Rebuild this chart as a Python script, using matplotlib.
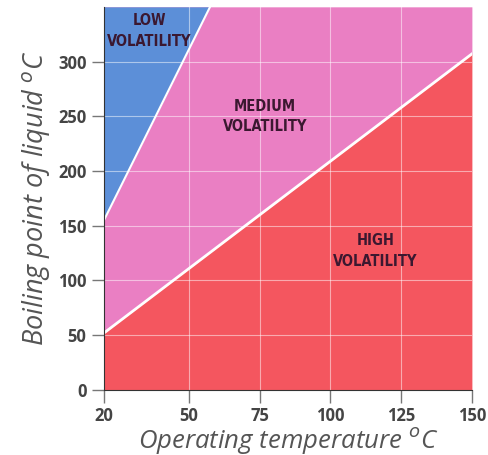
import numpy as np
import matplotlib.pyplot as plt
from matplotlib import font_manager

# boundary lines
high_x = [20, 150]
high_y = [52, 307]
low_x = [20, 57.5]
low_y = [155, 350]

x_ticks = [20, 50, 75, 100, 125, 150]
y_ticks = [0, 50, 100, 150, 200, 250, 300]
y_top = 350

labels = ["LOW\nVOLATILITY", "MEDIUM\nVOLATILITY", "HIGH\nVOLATILITY"]
label_pos = [(36, 328), (77, 250), (116, 127)]

c_low = '#5c8fd8'
c_med = '#ea7fc3'
c_high = '#f4565f'

# pick a bold condensed face if one is installed
cands = []
for f in font_manager.fontManager.ttflist:
    tag = (f.name + ' ' + f.fname).lower()
    if ('narrow' in tag or 'condensed' in tag) and 'italic' not in tag and f.style == 'normal':
        w = f.weight if isinstance(f.weight, int) else 400
        cands.append((abs(w - 700), f.fname, f.name, w))
cands.sort()
if cands:
    lab_font = font_manager.FontProperties(fname=cands[0][1], size=10.5)
else:
    lab_font = font_manager.FontProperties(family='DejaVu Sans', weight='bold', size=9)

fig = plt.figure(figsize=(4.88, 4.55), dpi=100)
ax = fig.add_axes([0.213, 0.143, 0.754, 0.842])

xs = np.linspace(20, 150, 400)
hi = np.interp(xs, high_x, high_y)
lo_slope = (low_y[1] - low_y[0]) / (low_x[1] - low_x[0])
lo = low_y[0] + lo_slope * (xs - low_x[0])
lo = np.minimum(lo, y_top)

ax.fill_between(xs, 0, hi, color=c_high, lw=0)
ax.fill_between(xs, hi, y_top, color=c_med, lw=0)
ax.fill_between(xs, lo, y_top, color=c_low, lw=0)

ax.plot(high_x, high_y, color='white', lw=2)
ax.plot(low_x, low_y, color='white', lw=1.5)

for gx in x_ticks[1:-1]:
    ax.axvline(gx, color='white', lw=0.8, alpha=0.5)
for gy in y_ticks[1:]:
    ax.axhline(gy, color='white', lw=0.8, alpha=0.5)

for lab, (lx, ly) in zip(labels, label_pos):
    ax.text(lx, ly, lab, ha='center', va='center', fontproperties=lab_font,
            color='#3b1830', linespacing=1.45)

ax.set_xlim(20, 150)
ax.set_ylim(0, y_top)
ax.set_xticks(x_ticks)
ax.set_yticks(y_ticks)
ax.tick_params(axis='both', length=9, width=1, color='#777777',
               labelcolor='#444444', labelsize=12)
for t in ax.get_xticklabels() + ax.get_yticklabels():
    t.set_fontweight('bold')
    t.set_family(['Open Sans', 'DejaVu Sans'])

for s in ['top', 'right']:
    ax.spines[s].set_visible(False)
ax.spines['left'].set_color('#333333')
ax.spines['bottom'].set_color('#333333')

ax.set_xlabel('Operating temperature $^o$C', fontsize=18.5, style='italic',
              color='#555555', labelpad=0, family=['Open Sans', 'DejaVu Sans'])
ax.set_ylabel('Boiling point of liquid $^o$C', fontsize=19.5, style='italic',
              color='#555555', labelpad=4, family=['Open Sans', 'DejaVu Sans'])

fig.savefig('out.png', dpi=100)
